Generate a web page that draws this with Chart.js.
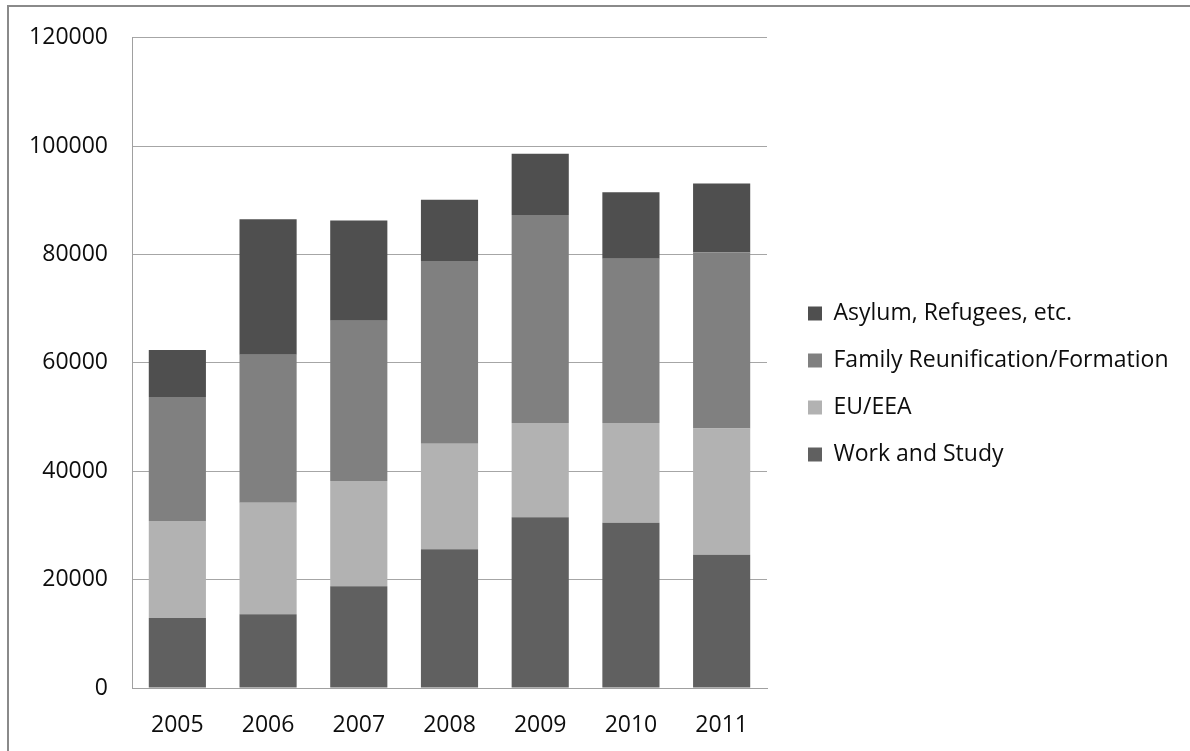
<!DOCTYPE html>
<html>
<head>
<meta charset="utf-8">
<script src="https://cdn.jsdelivr.net/npm/chart.js@4"></script>
<style>
  html,body{margin:0;padding:0;background:#fff;}
  .frame{position:absolute;left:7px;top:5px;width:1183px;height:746px;border-top:2px solid #8a8a8a;border-left:2px solid #8a8a8a;box-sizing:border-box;}
  .wrap{position:absolute;left:0;top:0;width:1190px;height:751px;}
</style>
</head>
<body>
<div class="frame"></div>
<div class="wrap"><canvas id="chart" width="1190" height="751"></canvas></div>
<script>
// years on the x axis
const years = ['2005','2006','2007','2008','2009','2010','2011'];

// stacked series, bottom to top
const workStudy = [12900, 13600, 18800, 25600, 31500, 30500, 24600];
const euEea     = [17900, 20600, 19400, 19500, 17400, 18400, 23300];
const family    = [22900, 27300, 29600, 33700, 38400, 30300, 32500];
const asylum    = [8700, 25000, 18500, 11300, 11300, 12300, 12700];

const yTicks = [0, 20000, 40000, 60000, 80000, 100000, 120000];

const FONT = {family:'"Open Sans", "Noto Sans", sans-serif', size:23};
const TEXT = '#0d0d0d';

// fixed legend column + small offset (Chart.js has no gap option between plot and legend)
const legendFix = {
  id:'legendFix',
  beforeLayout(chart){
    const lg = chart.legend;
    if (lg._patched) return;
    const fit = lg.fit.bind(lg);
    lg.fit = function(){ fit(); this.width = 423; };
    lg._patched = true;
  },
  afterLayout(chart){
    const lg = chart.legend;
    lg.left += 17; lg.right += 17;
    lg.top -= 10; lg.bottom -= 10;
  }
};

function draw(){
  new Chart(document.getElementById('chart'), {
    type:'bar',
    data:{
      labels: years,
      datasets:[
        { label:'Work and Study', data:workStudy, backgroundColor:'#606060' },
        { label:'EU/EEA', data:euEea, backgroundColor:'#b2b2b2' },
        { label:'Family Reunification/Formation', data:family, backgroundColor:'#808080' },
        { label:'Asylum, Refugees, etc.', data:asylum, backgroundColor:'#4f4f4f' }
      ]
    },
    options:{
      responsive:false,
      animation:false,
      layout:{ padding:{ left:0, top:37, right:0, bottom:0 } },
      datasets:{ bar:{ categoryPercentage:1, barPercentage:0.63, borderWidth:0 } },
      scales:{
        x:{
          stacked:true,
          grid:{ display:false },
          border:{ color:'#a0a0a0', width:1 },
          ticks:{ color:TEXT, font:FONT, padding:16 },
          afterFit(s){ s.height = 63; }
        },
        y:{
          stacked:true,
          min:0, max:120000,
          afterBuildTicks(s){ s.ticks = yTicks.map(v => ({value:v})); },
          grid:{ color:'#a6a6a6', lineWidth:1, tickLength:0 },
          border:{ color:'#a0a0a0', width:1 },
          ticks:{ color:TEXT, font:FONT, padding:24, callback:v => String(v) },
          afterFit(s){ s.width = 132; }
        }
      },
      plugins:{
        legend:{
          position:'right',
          reverse:true,
          labels:{ color:TEXT, font:FONT, boxWidth:14, boxHeight:14, padding:24 }
        },
        tooltip:{ enabled:false }
      }
    },
    plugins:[legendFix]
  });
}

if (document.fonts && document.fonts.load) {
  document.fonts.load('23px "Open Sans"').then(draw, draw);
} else draw();
</script>
</body>
</html>
